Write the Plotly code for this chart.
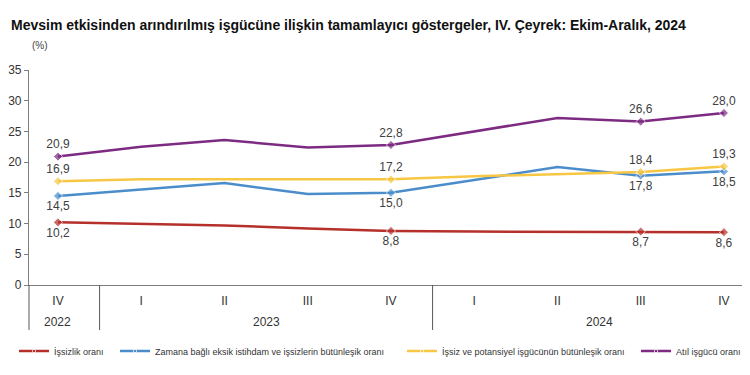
import plotly.graph_objects as go

quarters = ["IV", "I", "II", "III", "IV", "I", "II", "III", "IV"]
year_labels = ["2022", "2023", "2024"]
year_centers = [0, 2.5, 6.5]
year_breaks = [0.5, 4.5]

issizlik = [10.2, 9.9, 9.7, 9.2, 8.8, 8.7, 8.7, 8.7, 8.6]
zamana = [14.5, 15.5, 16.6, 14.8, 15.0, 17.1, 19.2, 17.8, 18.5]
potansiyel = [16.9, 17.2, 17.2, 17.2, 17.2, 17.7, 18.0, 18.4, 19.3]
atil = [20.9, 22.5, 23.6, 22.4, 22.8, 25.0, 27.2, 26.6, 28.0]

names = [
    "İşsizlik oranı",
    "Zamana bağlı eksik istihdam ve işsizlerin bütünleşik oranı",
    "İşsiz ve potansiyel işgücünün bütünleşik oranı",
    "Atıl işgücü oranı",
]
colors = ["#B5302B", "#4B8DCB", "#F7C744", "#7D2B82"]
labeled = [0, 4, 7, 8]

def fmt(v):
    return f"{v:.1f}".replace(".", ",")

series = [issizlik, zamana, potansiyel, atil]
positions = [
    ["bottom center", "bottom center", "bottom center", "bottom center"],
    ["bottom center", "bottom center", "bottom center", "bottom center"],
    ["top center", "top center", "top center", "top center"],
    ["top center", "top center", "top center", "top center"],
]

xs = list(range(len(quarters)))

fig = go.Figure()
legend_ids = ["legend", "legend2", "legend3", "legend4"]
for i, vals in enumerate(series):
    texts = [fmt(v) if j in labeled else "" for j, v in enumerate(vals)]
    tpos = ["top center"] * len(vals)
    for k, j in enumerate(labeled):
        tpos[j] = positions[i][k]
    sizes = [7 if j in labeled else 0 for j in range(len(vals))]
    fig.add_trace(go.Scatter(
        x=xs, y=vals, name=names[i],
        mode="lines+markers+text",
        line=dict(color=colors[i], width=2.5),
        marker=dict(symbol="diamond", size=sizes, color=colors[i]),
        text=texts, textposition=tpos,
        textfont=dict(size=12, color="#404040"),
        cliponaxis=False,
        legend=legend_ids[i],
    ))

# the page body adds an 8px offset, so the figure is laid out 8px up/left
W, H = 742, 367
L, R, T, B = 21, 0, 62, 90
pw = W - L - R
ph = H - T - B
x_range = [-0.348, 8.313]

def px_x(x):
    return (x - L) / pw

def px_y(y):
    return (H - B - y) / ph

leg_x = [6, 107, 394, 628]
legend_cfg = {}
for i, lid in enumerate(legend_ids):
    legend_cfg[lid] = dict(
        xref="container", yref="container",
        x=leg_x[i] / W, y=1 - 343 / H, xanchor="left", yanchor="middle",
        orientation="h", bgcolor="rgba(0,0,0,0)",
        font=dict(size=9, color="#333333"), itemwidth=30,
    )

shapes = [dict(type="line", xref="paper", yref="paper", x0=0, x1=0,
               y0=0, y1=px_y(322), line=dict(color="#595959", width=1))]
for b in year_breaks:
    shapes.append(dict(type="line", xref="x", yref="paper", x0=b, x1=b,
                       y0=0, y1=px_y(322), line=dict(color="#595959", width=1)))

annotations = [
    dict(text="<b>Mevsim etkisinden arındırılmış işgücüne ilişkin tamamlayıcı göstergeler, IV. Çeyrek: Ekim-Aralık, 2024</b>",
         xref="paper", yref="paper", x=px_x(1), y=px_y(17),
         xanchor="left", yanchor="middle", showarrow=False,
         font=dict(size=14, color="#111111")),
    dict(text="(%)", xref="paper", yref="paper", x=px_x(32), y=px_y(37),
         xanchor="center", yanchor="middle", showarrow=False,
         font=dict(size=10, color="#444444")),
]
for lbl, c in zip(year_labels, year_centers):
    annotations.append(dict(text=lbl, xref="x", yref="paper", x=c, y=px_y(314),
                            xanchor="center", yanchor="middle", showarrow=False,
                            font=dict(size=12, color="#333333")))

fig.update_layout(
    width=W, height=H,
    margin=dict(l=L, r=R, t=T, b=B),
    paper_bgcolor="white", plot_bgcolor="white",
    font=dict(family="Arial, Liberation Sans, sans-serif", color="#333333"),
    showlegend=True,
    **legend_cfg,
    xaxis=dict(
        range=x_range, tickvals=xs, ticktext=quarters, automargin=False,
        showline=True, linecolor="#7f7f7f", linewidth=1.2,
        showgrid=False, zeroline=False, ticks="", ticklabelstandoff=4,
        tickfont=dict(size=12, color="#333333"),
    ),
    yaxis=dict(
        range=[0, 35], dtick=5, showgrid=False, zeroline=False, automargin=False,
        showline=True, linecolor="#7f7f7f", linewidth=1.2,
        ticks="outside", ticklen=4, tickcolor="#7f7f7f",
        tickfont=dict(size=12, color="#333333"),
    ),
    shapes=shapes,
    annotations=annotations,
)

fig.write_html("out.html")
